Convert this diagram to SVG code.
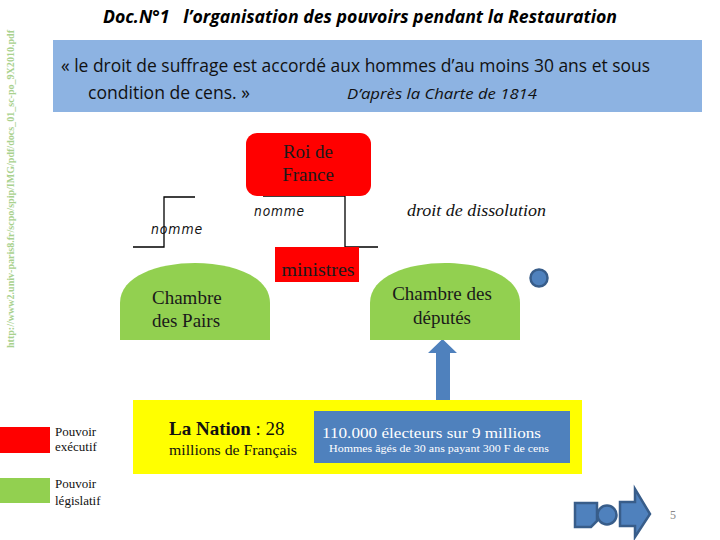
<svg xmlns="http://www.w3.org/2000/svg" width="720" height="540" viewBox="0 0 720 540">
<style>
.serif{font-family:"Liberation Serif","Times New Roman",serif;}
.cal{font-family:"Open Sans","Liberation Sans",sans-serif;}
.red{fill:#FF0000;}
.green{fill:#92D050;}
.blue{fill:#4F81BD;}
.icon{fill:#4F81BD;stroke:#385D8A;stroke-width:2.5;}
.line{stroke:#000;stroke-width:1.3;fill:none;}
.lab{font-family:"DejaVu Sans",sans-serif;font-style:italic;font-size:14px;fill:#111;letter-spacing:1px;}
.node{font-size:19px;fill:#1a1a1a;}
</style>
<rect width="720" height="540" fill="#fff"/>
<text transform="translate(14,348) rotate(-90)" class="serif" font-size="10.5" font-weight="bold" fill="#A9D18E" textLength="318" lengthAdjust="spacingAndGlyphs">http://www2.univ-paris8.fr/scpo/spip/IMG/pdf/docs_01_sc-po_9X2010.pdf</text>
<text x="103" y="23" class="cal" font-size="17" font-weight="bold" font-style="italic" fill="#000" textLength="514" lengthAdjust="spacingAndGlyphs" xml:space="preserve">Doc.N°1   l’organisation des pouvoirs pendant la Restauration</text>
<g id="quote">
<rect x="53" y="40" width="649" height="72" fill="#8DB3E2"/>
<text x="61" y="72" class="cal" font-size="18" fill="#111" textLength="589" lengthAdjust="spacingAndGlyphs">« le droit de suffrage est accordé aux hommes d’au moins 30 ans et sous</text>
<text x="88" y="99" class="cal" font-size="18" fill="#111" textLength="162" lengthAdjust="spacingAndGlyphs">condition de cens. »</text>
<text x="347" y="99" class="cal" font-size="15" font-style="italic" fill="#111" textLength="190" lengthAdjust="spacingAndGlyphs">D’après la Charte de 1814</text>
</g>
<g id="connectors">
<polyline class="line" points="263,196 345,196 345,247 378,247"/>
<polyline class="line" points="195,197 164,197 164,247 133,247"/>
<path class="blue" d="M436,412 V353 H428 L442.5,339 L457,353 H450 V412 Z"/>
</g>
<g id="labels">
<text x="151" y="234" class="lab" textLength="52" lengthAdjust="spacingAndGlyphs">nomme</text>
<text x="254" y="216" class="lab" textLength="51" lengthAdjust="spacingAndGlyphs">nomme</text>
<text x="407" y="216" class="serif" font-size="16" font-style="italic" fill="#111" textLength="139" lengthAdjust="spacingAndGlyphs">droit de dissolution</text>
</g>
<g id="roi">
<rect x="246" y="133" width="125" height="63" rx="11" class="red"/>
<text x="308" y="158" class="serif node" text-anchor="middle">Roi de</text>
<text x="308" y="181" class="serif node" text-anchor="middle">France</text>
</g>
<g id="ministres">
<rect x="275" y="247" width="84" height="35" class="red"/>
<text x="318" y="276" class="serif node" text-anchor="middle" textLength="73" lengthAdjust="spacingAndGlyphs">ministres</text>
</g>
<g id="pairs">
<path class="green" d="M120,340 V303 C120,276 158,263 195,263 C232,263 270,276 270,303 V340 Z"/>
<text x="152" y="304" class="serif node">Chambre</text>
<text x="152" y="327" class="serif node">des Pairs</text>
</g>
<g id="deputes">
<path class="green" d="M370,340 V303 C370,276 408,263 445,263 C482,263 520,276 520,303 V340 Z"/>
<text x="442" y="300" class="serif node" text-anchor="middle">Chambre des</text>
<text x="442" y="324" class="serif node" text-anchor="middle">députés</text>
</g>
<circle cx="539" cy="278" r="8.5" class="icon"/>
<g id="nation">
<rect x="133" y="400" width="449" height="74" fill="#FFFF00"/>
<text x="169" y="435" class="serif" font-size="19" fill="#111"><tspan font-weight="bold">La Nation</tspan> : 28</text>
<text x="169" y="455" class="serif" font-size="15" fill="#111" textLength="128" lengthAdjust="spacingAndGlyphs">millions de Français</text>
</g>
<g id="electeurs">
<rect x="314" y="411" width="256" height="52" class="blue"/>
<text x="322" y="438" class="serif" font-size="15" fill="#fff" textLength="219" lengthAdjust="spacingAndGlyphs">110.000 électeurs sur 9 millions</text>
<text x="329" y="452" class="serif" font-size="11" fill="#fff" textLength="220" lengthAdjust="spacingAndGlyphs">Hommes âgés de 30 ans payant 300 F de cens</text>
</g>
<g id="legend">
<rect x="0" y="427" width="50" height="26" class="red"/>
<text x="55" y="436" class="serif" font-size="13" fill="#111">Pouvoir</text>
<text x="55" y="451" class="serif" font-size="13" fill="#111">exécutif</text>
<rect x="0" y="478" width="50" height="25" class="green"/>
<text x="55" y="488" class="serif" font-size="13" fill="#111">Pouvoir</text>
<text x="55" y="505" class="serif" font-size="13" fill="#111">législatif</text>
</g>
<g id="nav">
<path class="icon" d="M575,503 H597 V521 L591,527 H575 Z"/>
<circle cx="607" cy="515" r="9.5" class="icon"/>
<path class="icon" d="M620,502 H635 V489 L650,514 L635,537 V526 H620 Z"/>
</g>
<text x="670" y="519" class="serif" font-size="12" fill="#888">5</text>
</svg>
